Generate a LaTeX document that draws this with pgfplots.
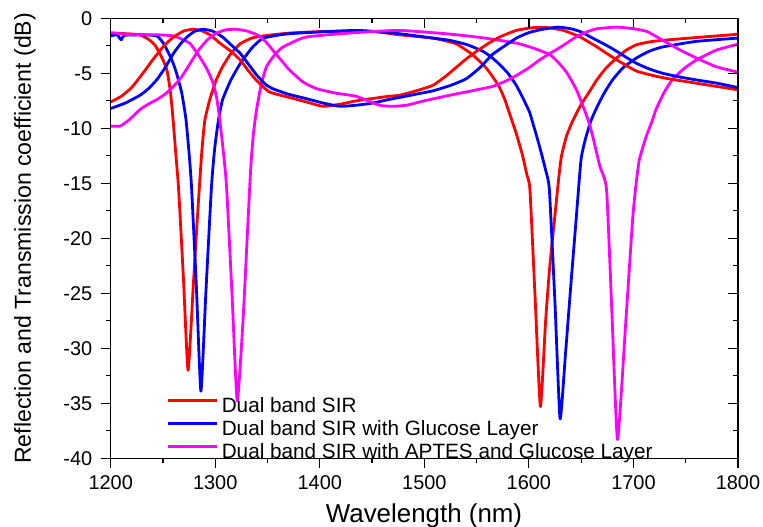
\documentclass[border=0pt]{standalone}
\usepackage{fontspec}
\setmainfont{Liberation Sans}
\usepackage{pgfplots}
\pgfplotsset{compat=1.18}
\definecolor{cR}{RGB}{255,0,0}
\definecolor{cB}{RGB}{0,0,255}
\definecolor{cM}{RGB}{255,0,255}
\begin{document}
\begin{tikzpicture}
\pgfplotsset{
  common/.style={
    at={(0,0)}, anchor=south west,
    scale only axis, width=627.3bp, height=440bp,
    xmin=1200, xmax=1800, ymin=-40, ymax=0,
    xtick={1200,1300,...,1800}, ytick={-40,-35,...,0},
    minor x tick num=1, minor y tick num=1,
    major tick length=10bp, minor tick length=5bp,
    every tick/.style={black, line width=1.2bp},
    axis line style={line width=1.2bp},
  }
}
\begin{axis}[common,
  tick align=outside, xtick pos=left, ytick pos=left,
  /pgf/number format/assume math mode=true,
  /pgf/number format/set thousands separator={},
  tick label style={font=\fontsize{20}{22}\selectfont},
  xticklabel style={yshift=-4bp},
  yticklabel style={xshift=-5bp},
  xlabel={Wavelength (nm)},
  ylabel={Reflection and Transmission coefficient (dB)},
  xlabel style={font=\fontsize{26}{28}\selectfont, at={(axis description cs:0.4995,-0.145)}, anchor=base},
  ylabel style={font=\fontsize{23.2}{25}\selectfont, at={(axis description cs:-0.1366,0.5)}, anchor=center},
  legend cell align=left,
  legend image code/.code={\draw[#1] (0bp,7.5bp) -- (49bp,7.5bp);},
  legend style={at={(axis description cs:0.0897,0.1348)}, anchor=north west,
    draw=none, fill=none, inner sep=0pt, outer sep=0pt, row sep=5bp,
    font=\fontsize{20.8}{23}\selectfont,
    nodes={inner sep=0pt, text height=14bp, text depth=4bp},
    /tikz/every odd column/.append style={column sep=3bp}},
  every axis plot/.append style={line width=2.8bp, line join=round, smooth, tension=0.3},
]
% ---- reflection (S11) ----
\addplot[cR] coordinates {(1200,-1.35)(1215,-1.4)(1228,-1.5)(1236,-1.9)(1242,-2.4)(1247,-3.2)(1251,-4.0)(1254,-4.8)(1257,-6.6)(1259.5,-9)(1262,-12)(1265,-15.6)(1269.5,-23.5)(1274,-32)(1279,-24.3)(1283,-18)(1287,-12.3)(1290,-9.3)(1295,-7.3)(1301,-5.6)(1307,-4.4)(1315,-3.2)(1324,-2.3)(1335,-1.8)(1346,-1.6)(1370,-1.35)(1403,-1.2)(1451,-1.2)(1476,-1.5)(1508,-1.8)(1530,-2.3)(1546,-3.3)(1559,-4.5)(1566,-5.4)(1572,-6.3)(1577,-7.4)(1582,-8.8)(1588,-10.5)(1594,-12.5)(1598,-14.2)(1601,-15.6)(1606,-25.5)(1611,-35.3)(1616,-27.5)(1620,-22.5)(1624.5,-18.3)(1628,-15)(1631,-12.6)(1636,-10.7)(1642,-9.3)(1649,-8.0)(1657,-6.8)(1665,-5.6)(1674,-4.5)(1684,-3.6)(1693,-2.9)(1703,-2.4)(1715,-2.15)(1728,-2.0)(1760,-1.75)(1800,-1.45)};
\addlegendentry{Dual band SIR}
\addplot[cB] coordinates {(1200,-1.6)(1206,-1.5)(1210,-1.95)(1213,-1.55)(1230,-1.5)(1244,-1.6)(1250,-2.2)(1254,-2.9)(1259,-3.9)(1263,-5.0)(1268,-6.8)(1272,-9.2)(1275,-12.3)(1277.3,-15.3)(1282,-24.5)(1286.3,-33.9)(1291,-25)(1296.4,-15.3)(1299.5,-11.8)(1303,-9.3)(1307,-7.4)(1315,-5.6)(1324,-4.1)(1335,-2.7)(1346,-1.8)(1371,-1.4)(1435,-1.1)(1476,-1.4)(1500,-1.7)(1524,-2.0)(1541,-2.4)(1556,-3.0)(1565,-3.6)(1572,-4.2)(1580,-5.0)(1588,-6.1)(1594,-7.2)(1600.5,-8.5)(1604,-9.6)(1608,-10.9)(1612,-12.3)(1616,-13.8)(1619.6,-15.6)(1625,-26)(1629.8,-36.4)(1635,-30.5)(1640,-24.4)(1645,-18.5)(1649.8,-12.9)(1654,-11)(1659.4,-9.3)(1665,-8.1)(1672,-6.8)(1680,-5.6)(1690,-4.5)(1703,-3.6)(1715,-3.0)(1728,-2.6)(1760,-2.1)(1800,-1.8)};
\addlegendentry{Dual band SIR with Glucose Layer}
\addplot[cM] coordinates {(1200,-1.3)(1220,-1.5)(1245,-1.5)(1260,-1.6)(1268,-1.9)(1276,-2.3)(1285,-3.5)(1292,-4.6)(1298,-5.9)(1301.5,-7.3)(1304.4,-9.3)(1307.6,-12)(1310.8,-15.3)(1316,-25)(1321,-34.8)(1326.6,-27.4)(1331.4,-18.3)(1334,-13.5)(1336.5,-10.5)(1339.5,-8.3)(1344,-6.0)(1349,-4.4)(1357,-3.3)(1365,-2.6)(1387,-1.7)(1435,-1.3)(1476,-1.1)(1520,-1.4)(1550,-1.7)(1572,-2.0)(1590,-2.3)(1604,-2.7)(1620,-3.3)(1628,-4.0)(1636,-4.9)(1645,-6.4)(1651,-7.8)(1655,-8.8)(1658.5,-9.8)(1663,-11.5)(1668,-13.5)(1674.3,-15.6)(1679.5,-27)(1684.8,-38.3)(1692.8,-27.4)(1699.2,-18.3)(1702,-15.5)(1705.5,-12.9)(1712,-10.8)(1718,-9.3)(1721.5,-8.3)(1729,-6.8)(1737,-5.6)(1748,-4.6)(1760,-3.8)(1779,-2.9)(1800,-2.35)};
\addlegendentry{Dual band SIR with APTES and Glucose Layer}
% ---- transmission (S21) ----
\addplot[cR, forget plot] coordinates {(1200,-7.6)(1210,-7.1)(1220,-6.3)(1230,-5.1)(1240,-3.8)(1250,-2.6)(1260,-1.7)(1270,-1.15)(1278,-1.0)(1286,-1.1)(1295,-1.5)(1305,-2.3)(1315,-3.0)(1324,-3.8)(1332,-4.8)(1340,-5.7)(1352,-6.7)(1371,-7.2)(1387,-7.6)(1403,-8.0)(1420,-7.8)(1435,-7.5)(1450,-7.3)(1465,-7.1)(1476,-7.0)(1492,-6.6)(1508,-6.1)(1520,-5.3)(1530,-4.5)(1540,-3.7)(1550,-3.0)(1561,-2.3)(1572,-1.7)(1588,-1.1)(1604,-0.85)(1618,-0.85)(1633,-1.1)(1649,-1.7)(1665,-2.6)(1681,-3.6)(1703,-4.8)(1728,-5.4)(1760,-5.9)(1800,-6.5)};
\addplot[cB, forget plot] coordinates {(1200,-8.2)(1214,-7.7)(1228,-7.0)(1236,-6.4)(1244,-5.6)(1252,-4.5)(1260,-3.2)(1267,-2.3)(1273,-1.7)(1280,-1.2)(1288,-1.0)(1297,-1.15)(1307,-1.7)(1315,-2.4)(1324,-3.2)(1332,-4.2)(1340,-5.2)(1348,-6.0)(1355,-6.4)(1370,-6.9)(1387,-7.3)(1403,-7.7)(1419,-8.0)(1435,-7.9)(1451,-7.7)(1465,-7.4)(1476,-7.2)(1492,-6.9)(1508,-6.6)(1525,-6.1)(1540,-5.5)(1553,-4.5)(1565,-3.3)(1577,-2.5)(1588,-1.8)(1600,-1.3)(1613,-1.0)(1628,-0.8)(1640,-0.95)(1649,-1.2)(1657,-1.6)(1665,-2.0)(1675,-2.5)(1684,-3.0)(1694,-3.6)(1703,-4.1)(1715,-4.6)(1728,-5.0)(1745,-5.35)(1760,-5.6)(1780,-5.9)(1800,-6.3)};
\addplot[cM, forget plot] coordinates {(1200,-9.8)(1209,-9.8)(1218,-9.2)(1228,-8.3)(1236,-7.8)(1244,-7.4)(1252,-6.9)(1260,-6.2)(1268,-5.3)(1276,-4.1)(1284,-2.9)(1292,-2.0)(1300,-1.4)(1310,-1.05)(1320,-1.0)(1330,-1.15)(1340,-1.5)(1348,-2.1)(1355,-2.9)(1363,-3.8)(1371,-4.7)(1384,-5.8)(1397,-6.4)(1415,-6.8)(1435,-7.1)(1457,-7.9)(1470,-8.0)(1483,-7.9)(1500,-7.5)(1524,-7.0)(1545,-6.6)(1565,-6.2)(1578,-5.7)(1588,-5.2)(1600,-4.5)(1610,-3.8)(1620,-3.2)(1629,-2.7)(1637,-2.2)(1645,-1.7)(1655,-1.25)(1665,-0.95)(1684,-0.8)(1700,-0.95)(1713,-1.2)(1728,-2.0)(1745,-2.9)(1760,-3.6)(1779,-4.4)(1800,-4.9)};
\end{axis}
\begin{axis}[common,
  tick align=inside, xtick pos=right, ytick pos=right,
  xticklabels={}, yticklabels={},
]
\end{axis}
\pgfresetboundingbox
\path[use as bounding box] (-110.7bp,-68.7bp) rectangle (652.3bp,458.3bp);
\end{tikzpicture}
\end{document}
